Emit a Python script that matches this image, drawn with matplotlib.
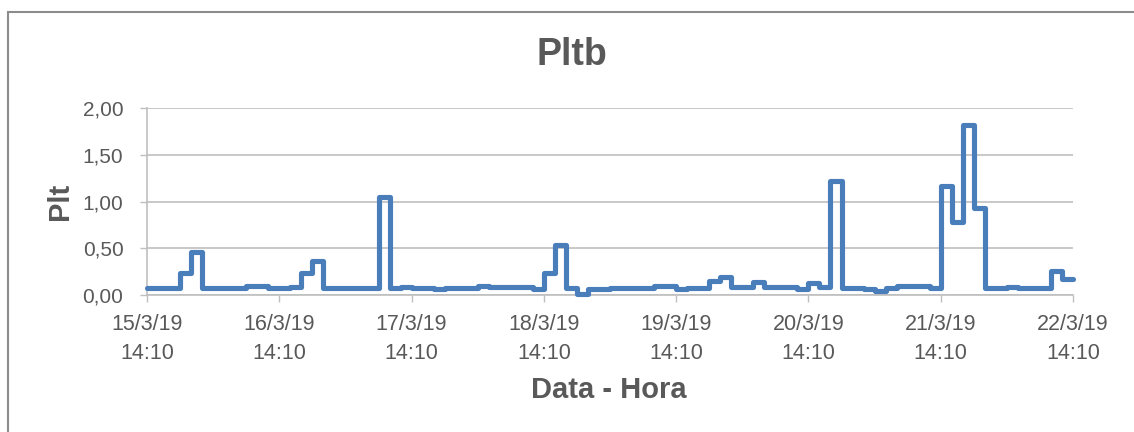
import pandas as pd
import matplotlib.pyplot as plt
from matplotlib.patches import Rectangle

# Plt values, one every 2 hours, starting 15/3/19 14:10
plt_values = [0.08, 0.08, 0.075, 0.23, 0.46, 0.08, 0.08, 0.08, 0.08, 0.10,
              0.10, 0.07, 0.07, 0.09, 0.23, 0.36, 0.08, 0.08, 0.08, 0.08,
              0.08, 1.05, 0.08, 0.09, 0.08, 0.08, 0.06, 0.08, 0.08, 0.08,
              0.095, 0.085, 0.085, 0.085, 0.085, 0.06, 0.24, 0.54, 0.07, 0.01,
              0.065, 0.065, 0.075, 0.075, 0.08, 0.08, 0.095, 0.095, 0.06, 0.08,
              0.08, 0.15, 0.195, 0.09, 0.09, 0.14, 0.09, 0.09, 0.09, 0.06,
              0.125, 0.09, 1.22, 0.07, 0.07, 0.06, 0.045, 0.08, 0.10, 0.10,
              0.10, 0.07, 1.17, 0.78, 1.82, 0.93, 0.075, 0.075, 0.09, 0.08,
              0.08, 0.08, 0.26, 0.17]
start = '2019-03-15 14:10'
tick_labels = ['15/3/19\n14:10', '16/3/19\n14:10', '17/3/19\n14:10',
               '18/3/19\n14:10', '19/3/19\n14:10', '20/3/19\n14:10',
               '21/3/19\n14:10', '22/3/19\n14:10']
y_ticks = [0, 0.5, 1.0, 1.5, 2.0]

times = pd.date_range(start, periods=len(plt_values) + 1, freq='2h')
values = plt_values + [plt_values[-1]]
day_ticks = pd.date_range(start, periods=len(tick_labels), freq='D')

plt.rcParams['font.family'] = ['Liberation Sans', 'DejaVu Sans']
grey = '#595959'

fig = plt.figure(figsize=(11.34, 4.32), dpi=100)
ax = fig.add_axes([147 / 1134, 1 - 295 / 432, 926 / 1134, 187 / 432])

ax.plot(times, values, drawstyle='steps-post', color='#4A7EBB', lw=3.7,
        solid_joinstyle='round', solid_capstyle='round', clip_on=False, zorder=3)

ax.set_xlim(times[0], times[-1])
ax.set_ylim(0, 2)
ax.set_xticks(day_ticks)
ax.set_xticklabels(tick_labels, fontsize=15.5, color=grey, linespacing=1.45)
ax.set_yticks(y_ticks)
ax.set_yticklabels([f'{v:.2f}'.replace('.', ',') for v in y_ticks],
                   fontsize=15, color=grey)
ax.tick_params(axis='x', length=5, width=1, color='#BFBFBF', pad=9)
ax.tick_params(axis='y', length=5, width=1, color='#BFBFBF', pad=12)
ax.grid(axis='y', color='#BFBFBF', lw=1.2)
ax.set_axisbelow(True)
for side in ['top', 'right']:
    ax.spines[side].set_visible(False)
for side in ['left', 'bottom']:
    ax.spines[side].set_color('#BFBFBF')
    ax.spines[side].set_linewidth(1.2)

fig.text(572 / 1134, 1 - 55 / 432, 'Pltb', fontsize=27, fontweight='bold',
         color=grey, ha='center', va='center')
fig.text(609 / 1134, 1 - 390 / 432, 'Data - Hora', fontsize=21, fontweight='bold',
         color=grey, ha='center', va='center')
fig.text(60 / 1134, 1 - 201 / 432, 'Plt', fontsize=21, fontweight='bold',
         color=grey, ha='center', va='center', rotation=90)

# outer chart border
fig.add_artist(Rectangle((7.5 / 1134, -0.1), 1.2, 1.1 - 12 / 432,
                         transform=fig.transFigure, fill=False,
                         ec='#8C8C8C', lw=1.5))

fig.savefig('out.png', dpi=100)
